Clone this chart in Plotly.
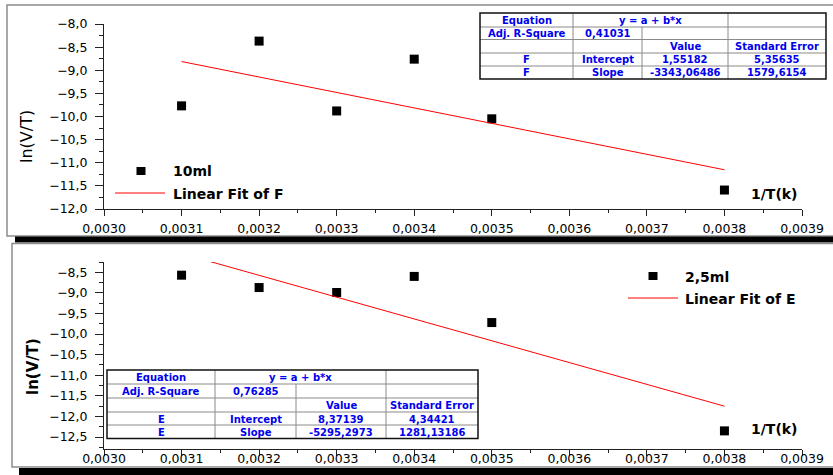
import plotly.graph_objects as go

W, H = 833, 475

# ---- measured data ----------------------------------------------------------
inv_T = [0.0031, 0.0032, 0.0033, 0.0034, 0.0035, 0.0038]
ln_vt_10ml = [-9.77, -8.37, -9.88, -8.76, -10.05, -11.59]
ln_vt_2_5ml = [-8.57, -8.87, -8.99, -8.60, -9.72, -12.35]

x_tick_vals = [0.0030, 0.0031, 0.0032, 0.0033, 0.0034, 0.0035, 0.0036, 0.0037, 0.0038, 0.0039]

# ---- linear fit results (y = a + b*x) ---------------------------------------
fit_header = ["Equation", "y = a + b*x", "Adj. R-Square", "Value", "Standard Error",
              "Intercept", "Slope"]
adj_r2_F = "0,41031"
intercept_F = ["1,55182", "5,35635"]     # value, standard error
slope_F = ["-3343,06486", "1579,6154"]
adj_r2_E = "0,76285"
intercept_E = ["8,37139", "4,34421"]
slope_E = ["-5295,2973", "1281,13186"]


def num(s):
    return float(s.replace(",", "."))


def fit_line(intercept, slope):
    xs = [min(inv_T), max(inv_T)]
    a, b = num(intercept[0]), num(slope[0])
    return xs, [a + b * x for x in xs]


# ---- pixel helpers for page furniture ----------------------------------------
def px(x):
    return x / W


def py(y):
    return 1 - y / H


shapes = []
annotations = []

BLUE = "#0000ee"
TXT_FONT = "DejaVu Sans"


def rect(x0, y0, x1, y1, line_color=None, line_width=0, fill=None, layer="above"):
    shapes.append(dict(type="rect", xref="paper", yref="paper",
                       x0=px(x0), x1=px(x1), y0=py(y1), y1=py(y0),
                       line=dict(color=line_color or "rgba(0,0,0,0)", width=line_width),
                       fillcolor=fill or "rgba(0,0,0,0)", layer=layer))


def hline(x0, x1, y, color, width):
    shapes.append(dict(type="line", xref="paper", yref="paper",
                       x0=px(x0), x1=px(x1), y0=py(y), y1=py(y),
                       line=dict(color=color, width=width)))


def vline(x, y0, y1, color, width):
    shapes.append(dict(type="line", xref="paper", yref="paper",
                       x0=px(x), x1=px(x), y0=py(y0), y1=py(y1),
                       line=dict(color=color, width=width)))


def text(x, y, s, size, color="black", bold=False, xanchor="center", angle=0):
    annotations.append(dict(xref="paper", yref="paper", x=px(x), y=py(y),
                            text=f"<b>{s}</b>" if bold else s, showarrow=False,
                            xanchor=xanchor, yanchor="middle", textangle=angle,
                            font=dict(family=TXT_FONT, size=size, color=color)))


def fit_table(xe, ye, name, r2, intercept, slope):
    rect(xe[0], ye[0], xe[-1], ye[-1], fill="white")
    for y in ye[1:-1]:
        hline(xe[0], xe[-1], y, "#8a8a8a", 1)
    vline(xe[1], ye[0], ye[-1], "#8a8a8a", 1)
    vline(xe[3], ye[0], ye[-1], "#8a8a8a", 1)
    vline(xe[2], ye[1], ye[-1], "#8a8a8a", 1)
    rect(xe[0], ye[0], xe[-1], ye[-1], line_color="#111111", line_width=1.5)
    cx = [(xe[i] + xe[i + 1]) / 2 for i in range(4)]
    cy = [(ye[i] + ye[i + 1]) / 2 for i in range(5)]
    rows = [
        [(cx[0], fit_header[0]), ((xe[1] + xe[3]) / 2, fit_header[1])],
        [(cx[0], fit_header[2]), (cx[1], r2)],
        [(cx[2], fit_header[3]), (cx[3], fit_header[4])],
        [(cx[0], name), (cx[1], fit_header[5]), (cx[2], intercept[0]), (cx[3], intercept[1])],
        [(cx[0], name), (cx[1], fit_header[6]), (cx[2], slope[0]), (cx[3], slope[1])],
    ]
    for r, cells in enumerate(rows):
        for x, s in cells:
            text(x, cy[r] + 0.5, s, 10, BLUE, bold=True)


# ---- panel frames with drop shadows -----------------------------------------
rect(7, 5, 845, 236, line_color="#8c8c8c", line_width=1.5, layer="below")
rect(15, 236.5, 845, 242.5, fill="black", layer="below")
rect(12, 243.5, 845, 467, line_color="#8c8c8c", line_width=1.5, layer="below")
rect(19, 468, 845, 476, fill="black", layer="below")

# ---- fit tables --------------------------------------------------------------
fit_table([480, 573, 642, 728, 826], [13, 27, 39.5, 53, 66, 79], "F", adj_r2_F, intercept_F, slope_F)
fit_table([107, 215, 296, 386, 478], [370, 384, 398, 412, 425, 438.5], "E", adj_r2_E, intercept_E, slope_E)

# ---- legends -----------------------------------------------------------------
rect(136.5, 167, 145.5, 175, fill="black")
text(171, 171.5, "10ml", 14, bold=True, xanchor="left")
hline(115, 165, 193, "red", 1)
text(171, 193.5, "Linear Fit of F", 14, bold=True, xanchor="left")

rect(648.5, 272, 657.5, 280, fill="black")
text(683, 276.5, "2,5ml", 14, bold=True, xanchor="left")
hline(628, 678, 298, "red", 1)
text(683, 298.5, "Linear Fit of E", 14, bold=True, xanchor="left")

# ---- axis titles -------------------------------------------------------------
text(27, 137, "ln(V/T)", 16, angle=-90)
text(33, 367, "ln(V/T)", 15, bold=True, angle=-90)
text(774, 194, "1/T(k)", 14, bold=True)
text(774, 429, "1/T(k)", 14, bold=True)

# ---- traces ------------------------------------------------------------------
fig = go.Figure()
fig.add_trace(go.Scatter(x=inv_T, y=ln_vt_10ml, mode="markers", name="10ml",
                         marker=dict(symbol="square", size=9, color="black", line=dict(width=0)),
                         xaxis="x", yaxis="y"))
fx, fy = fit_line(intercept_F, slope_F)
fig.add_trace(go.Scatter(x=fx, y=fy, mode="lines", name="Linear Fit of F",
                         line=dict(color="red", width=1), xaxis="x", yaxis="y"))
fig.add_trace(go.Scatter(x=inv_T, y=ln_vt_2_5ml, mode="markers", name="2,5ml",
                         marker=dict(symbol="square", size=9, color="black", line=dict(width=0)),
                         xaxis="x2", yaxis="y2"))
ex, ey = fit_line(intercept_E, slope_E)
fig.add_trace(go.Scatter(x=ex, y=ey, mode="lines", name="Linear Fit of E",
                         line=dict(color="red", width=1), xaxis="x2", yaxis="y2"))

tick_font = dict(family=TXT_FONT, size=12.5, color="black")
x_dom = [px(104), px(802)]
xcommon = dict(domain=x_dom, range=[0.0030, 0.0039], tickvals=x_tick_vals, tickformat=".4f",
               showline=True, linecolor="#222222", linewidth=1, ticks="outside", ticklen=6,
               tickcolor="#222222", showgrid=False, zeroline=False, tickfont=tick_font,
               automargin=False,
               minor=dict(dtick=0.00005, tick0=0.0030, ticks="outside", ticklen=3,
                          tickcolor="#222222", showgrid=False))
ycommon = dict(dtick=0.5, tickformat=".1f", showline=True, linecolor="#222222", linewidth=1,
               ticks="outside", ticklen=8, tickcolor="#222222", showgrid=False,
               zeroline=False, tickfont=tick_font, ticklabelstandoff=5, automargin=False,
               minor=dict(dtick=0.25, ticks="outside", ticklen=4, tickcolor="#222222",
                          showgrid=False))

fig.update_layout(
    width=W, height=H, margin=dict(l=0, r=0, t=0, b=0, autoexpand=False),
    paper_bgcolor="white", plot_bgcolor="rgba(0,0,0,0)",
    showlegend=False, separators=",.",
    xaxis=dict(anchor="y", ticklabelstandoff=2, **xcommon),
    yaxis=dict(anchor="x", domain=[py(209), py(24)], range=[-12, -8], tick0=-8, **ycommon),
    xaxis2=dict(anchor="y2", ticklabelstandoff=-8, **xcommon),
    yaxis2=dict(anchor="x2", domain=[py(449), py(262)], range=[-12.79, -8.25], tick0=-8.5,
                **ycommon),
    shapes=shapes, annotations=annotations,
)

fig.write_html("out.html")
